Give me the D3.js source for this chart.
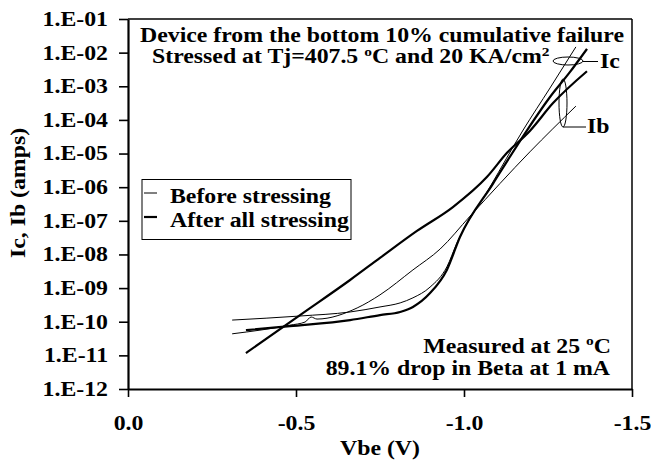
<!DOCTYPE html>
<html>
<head>
<meta charset="utf-8">
<script src="https://cdnjs.cloudflare.com/ajax/libs/d3/7.8.5/d3.min.js"></script>
<style>
  body { margin: 0; background: #fff; }
  text { font-family: "Liberation Serif", "Times New Roman", serif; font-weight: bold; fill: #000; }
</style>
</head>
<body>
<script>
// ----------------------------------- DATA --------------------------------------------
// Vbe (V) and current (A)
var icBeforeV = [-0.310, -0.512, -0.661, -0.750, -0.810, -0.848, -0.899, -0.949, -0.979, -1.077, -1.176, -1.256, -1.333]
var icBeforeI = [1.12e-10, 1.48e-10, 1.95e-10, 2.75e-10, 3.63e-10, 5.13e-10, 1.07e-9, 4.27e-9, 2.19e-8, 1.0e-6, 5.0e-5, 8.9e-4, 1.48e-2]

var icAfterV = [-0.351, -0.482, -0.661, -0.750, -0.810, -0.848, -0.899, -0.949, -0.988, -1.086, -1.188, -1.256, -1.315, -1.366]
var icAfterI = [5.6e-11, 7.4e-11, 1.12e-10, 1.58e-10, 1.95e-10, 2.75e-10, 7.1e-10, 3.47e-9, 3.31e-8, 1.26e-6, 5.0e-5, 4.8e-4, 2.63e-3, 1.29e-2]

var ibBeforeV = [-0.310, -0.482, -0.527, -0.545, -0.5625, -0.682, -0.750, -0.848, -0.929, -1.018, -1.196, -1.333]
var ibBeforeI = [4.37e-11, 7.9e-11, 9.8e-11, 1.38e-10, 1.2e-10, 2.57e-10, 6.3e-10, 3.47e-9, 1.45e-8, 1.38e-7, 1.12e-5, 2.57e-4]

var ibAfterV = [-0.351, -0.512, -0.661, -0.750, -0.860, -0.967, -1.068, -1.128, -1.196, -1.265, -1.366]
var ibAfterI = [1.17e-11, 1.58e-10, 1.74e-9, 7.9e-9, 5.0e-8, 2.57e-7, 2.0e-6, 1.05e-5, 4.7e-5, 3.16e-4, 2.8e-3]

var xTicks = [0, -0.5, -1.0, -1.5]
var xTickLabels = ['0.0', '-0.5', '-1.0', '-1.5']
var yTicks = [1e-1, 1e-2, 1e-3, 1e-4, 1e-5, 1e-6, 1e-7, 1e-8, 1e-9, 1e-10, 1e-11, 1e-12]
var yTickLabels = ['1.E-01', '1.E-02', '1.E-03', '1.E-04', '1.E-05', '1.E-06', '1.E-07', '1.E-08', '1.E-09', '1.E-10', '1.E-11', '1.E-12']

var legendLabels = ['Before stressing', 'After all stressing']

// ----------------------------------- SVG --------------------------------------------
var width = 651
var height = 466
var sx = 1.19   // text in the picture is a bit wide

var svg = d3.select('body')
			.append('svg')
			.attr('width', width)
			.attr('height', height)

var plotLeft = 128, plotRight = 632, plotTop = 19, plotBottom = 389

var x = d3.scaleLinear().domain([0, -1.5]).range([plotLeft, plotRight])
var y = d3.scaleLog().domain([1e-12, 1e-1]).range([plotBottom, plotTop])

function zip(vs, is) {
	return vs.map(function(v, i){ return {v: v, i: is[i]} })
}

function label(px, py, anchor) {
	return svg.append('text')
		.attr('transform', 'translate(' + px + ',' + py + ') scale(' + sx + ',1)')
		.attr('text-anchor', anchor)
		.style('font-size', '20px')
}

// ----------------------------------- FRAME & AXES --------------------------------------------
svg.append('line')
	.attr('x1', plotLeft).attr('x2', plotRight).attr('y1', plotTop).attr('y2', plotTop)
	.attr('stroke', '#000').attr('stroke-width', 1.5)
svg.append('line')
	.attr('x1', plotRight).attr('x2', plotRight).attr('y1', plotTop).attr('y2', plotBottom)
	.attr('stroke', '#000').attr('stroke-width', 1.5)

var yAxis = svg.append('g')
	.attr('transform', 'translate(' + plotLeft + ',0)')
	.call(d3.axisLeft(y)
		.tickValues(yTicks)
		.tickFormat(function(d, i){ return yTickLabels[i] })
		.tickSize(9)
		.tickSizeOuter(0)
		.tickPadding(7.8))

var xAxis = svg.append('g')
	.attr('transform', 'translate(0,' + plotBottom + ')')
	.call(d3.axisBottom(x)
		.tickValues(xTicks)
		.tickFormat(function(d, i){ return xTickLabels[i] })
		.tickSize(8)
		.tickSizeOuter(0)
		.tickPadding(18.8))

svg.selectAll('.domain').attr('stroke-width', 2.2)
svg.selectAll('.tick line').attr('stroke-width', 1.6)
svg.selectAll('.tick text')
	.attr('transform', 'scale(' + sx + ',1)')
	.style('font-family', '"Liberation Serif", serif')
	.style('font-weight', 'bold')
	.style('font-size', '20px')

label(380, 455, 'middle').text('Vbe (V)')

svg.append('text')
	.attr('transform', 'translate(25,193) rotate(-90) scale(' + sx + ',1)')
	.attr('text-anchor', 'middle')
	.style('font-size', '20px')
	.text('Ic, Ib (amps)')

// ----------------------------------- CURVES --------------------------------------------
var line = d3.line()
	.x(function(d){ return x(d.v) })
	.y(function(d){ return y(d.i) })
	.curve(d3.curveMonotoneX)

var series = [
	{pts: zip(icBeforeV, icBeforeI), w: 1},
	{pts: zip(ibBeforeV, ibBeforeI), w: 1},
	{pts: zip(icAfterV, icAfterI), w: 2.2},
	{pts: zip(ibAfterV, ibAfterI), w: 2.2}
]

svg.selectAll('path.curve')
	.data(series)
	.enter()
	.append('path')
	.attr('class', 'curve')
	.attr('d', function(d){ return line(d.pts) })
	.attr('fill', 'none')
	.attr('stroke', '#000')
	.attr('stroke-width', function(d){ return d.w })

// ----------------------------------- ANNOTATIONS --------------------------------------------
label(140, 42, 'start').text('Device from the bottom 10% cumulative failure')

var t2 = label(152, 63, 'start')
t2.append('tspan').text('Stressed at Tj=407.5 ')
t2.append('tspan').attr('dy', -7).style('font-size', '13px').text('o')
t2.append('tspan').attr('dy', 7).text('C and 20 KA/cm')
t2.append('tspan').attr('dy', -7).style('font-size', '13px').text('2')

// Ic / Ib callouts
svg.append('ellipse')
	.attr('cx', 568).attr('cy', 61).attr('rx', 15).attr('ry', 4)
	.attr('fill', 'none').attr('stroke', '#000').attr('stroke-width', 1)
svg.append('line')
	.attr('x1', 583).attr('x2', 598).attr('y1', 61.5).attr('y2', 61.5)
	.attr('stroke', '#000').attr('stroke-width', 1)
label(600, 68, 'start').text('Ic')

svg.append('ellipse')
	.attr('cx', 563).attr('cy', 103).attr('rx', 4).attr('ry', 24)
	.attr('fill', 'none').attr('stroke', '#000').attr('stroke-width', 1)
svg.append('line')
	.attr('x1', 563).attr('x2', 586).attr('y1', 127).attr('y2', 127)
	.attr('stroke', '#000').attr('stroke-width', 1)
label(587, 133, 'start').text('Ib')

var t3 = label(611, 353, 'end')
t3.append('tspan').text('Measured at 25 ')
t3.append('tspan').attr('dy', -8).style('font-size', '13px').text('o')
t3.append('tspan').attr('dy', 8).text('C')

label(610, 375, 'end').text('89.1% drop in Beta at 1 mA')

// ----------------------------------- LEGEND --------------------------------------------
svg.append('rect')
	.attr('x', 142).attr('y', 179.5).attr('width', 209).attr('height', 60)
	.attr('fill', '#fff').attr('stroke', '#000').attr('stroke-width', 1)

var legendW = [1, 2.2]
legendLabels.forEach(function(t, i){
	var ly = 193 + i * 24
	svg.append('line')
		.attr('x1', 144).attr('x2', 157).attr('y1', ly).attr('y2', ly)
		.attr('stroke', '#000').attr('stroke-width', legendW[i])
	label(170, 203 + i * 24, 'start').text(t)
})
</script>
</body>
</html>
